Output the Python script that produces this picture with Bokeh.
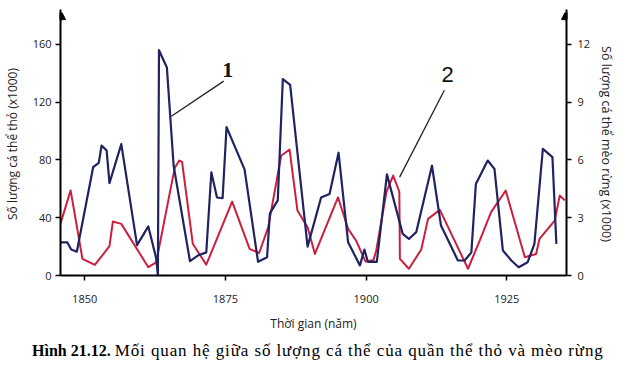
from bokeh.plotting import figure
from bokeh.models import (Range1d, LinearAxis, FixedTicker, Label, Arrow,
                          NormalHead, ColumnDataSource, Div)
from bokeh.layouts import column
from bokeh.embed import file_html
from bokeh.resources import INLINE

# ---- data ----
hare_years = [1845.6, 1846.9, 1847.6, 1848.6, 1851.5, 1852.5, 1853.0, 1853.9, 1854.4,
              1856.5, 1859.3, 1861.3, 1862.7, 1863.0, 1863.2, 1864.6, 1865.8, 1868.7,
              1870.1, 1871.6, 1872.5, 1873.5, 1874.5, 1875.2, 1878.4, 1880.8, 1882.4,
              1882.9, 1884.3, 1885.2, 1886.5, 1889.6, 1892.0, 1893.5, 1895.1, 1896.8,
              1898.9, 1899.7, 1900.3, 1901.9, 1903.7, 1906.5, 1907.6, 1908.9, 1911.7,
              1913.3, 1916.3, 1917.5, 1918.7, 1919.5, 1921.6, 1922.8, 1924.3, 1925.8,
              1927.1, 1928.7, 1929.9, 1931.4, 1933.1, 1933.8]
hare_values = [23, 23, 18, 16.5, 75, 78, 90, 86.5, 64,
               91, 21, 34, 12, 0, 156, 144, 76, 10,
               13.8, 16, 71.5, 54, 53.5, 102.7, 73.5, 9.5, 12.7,
               43, 52, 136, 132, 20, 54, 56.5, 85, 23,
               7, 18, 9.5, 9.5, 70, 28.8, 25.3, 30, 76,
               34.6, 10.4, 10.4, 16, 63.4, 79.6, 73.8, 17.3, 10.4,
               5.7, 9.2, 21.9, 87.7, 82, 21.9]

lynx_years = [1845.6, 1847.5, 1849.6, 1851.8, 1854.4, 1855.0, 1856.5, 1861.3, 1862.7,
              1866.0, 1866.8, 1867.3, 1869.2, 1871.6, 1876.2, 1879.3, 1881.0, 1882.6,
              1884.9, 1886.4, 1887.8, 1889.6, 1890.9, 1895.0, 1896.8, 1898.2, 1899.9,
              1901.3, 1901.8, 1903.6, 1904.8, 1905.9, 1906.0, 1907.6, 1909.8, 1911.0,
              1913.1, 1918.1, 1920.2, 1922.2, 1924.8, 1928.2, 1930.2, 1930.8, 1933.5,
              1934.4, 1935.3]
lynx_values = [2.6, 4.42, 0.86, 0.55, 1.52, 2.8, 2.68, 0.43, 0.68,
               5.6, 5.97, 5.9, 1.65, 0.56, 3.84, 1.38, 1.17, 2.5,
               6.22, 6.54, 3.37, 2.5, 1.12, 4.06, 2.42, 1.82, 0.72,
               0.8, 1.3, 4.33, 5.19, 4.35, 0.86, 0.35, 1.35, 2.94,
               3.41, 0.35, 1.82, 3.29, 4.41, 0.95, 1.12, 1.9, 2.85,
               4.15, 3.9]

x_ticks = [1850, 1875, 1900, 1925]
hare_ticks = [0, 40, 80, 120, 160]
lynx_ticks = [0, 3, 6, 9, 12]

X_MIN, X_MAX = 1845.7, 1935.6
HARE_MAX = 182.1
LYNX_MAX = HARE_MAX * 12 / 160

NAVY = "#1f2361"
RED = "#cc1f40"
TICK_FONT = "Open Sans"

p = figure(frame_width=506, frame_height=263, output_backend="svg", toolbar_location=None,
           x_range=Range1d(X_MIN, X_MAX), y_range=Range1d(0, HARE_MAX),
           min_border_left=53, min_border_right=0, min_border_top=12,
           min_border_bottom=57, outline_line_color=None,
           background_fill_color="white", border_fill_color="white")
p.extra_y_ranges = {"lynx": Range1d(0, LYNX_MAX)}
p.grid.visible = False

hare_src = ColumnDataSource(dict(x=hare_years, y=hare_values))
lynx_src = ColumnDataSource(dict(x=lynx_years, y=lynx_values))
p.line("x", "y", source=lynx_src, color=RED, line_width=2, y_range_name="lynx",
       line_join="round")
p.line("x", "y", source=hare_src, color=NAVY, line_width=2.2, line_join="round")

def style_axis(ax):
    ax.axis_line_color = "black"
    ax.axis_line_width = 2
    ax.major_tick_line_color = "black"
    ax.major_tick_line_width = 1.5
    ax.major_tick_out = 5
    ax.major_tick_in = 0
    ax.minor_tick_line_color = None
    ax.major_label_text_font = TICK_FONT
    ax.major_label_text_font_size = "11px"
    ax.major_label_text_color = "#222222"
    ax.axis_label_text_font = TICK_FONT
    ax.axis_label_text_font_style = "normal"
    ax.axis_label_text_color = "#222222"

xa = p.xaxis[0]
style_axis(xa)
xa.ticker = FixedTicker(ticks=x_ticks)
xa.major_label_standoff = 14
xa.axis_label = "Thời gian (năm)"
xa.axis_label_text_font_size = "12px"
xa.axis_label_standoff = 9

ya = p.yaxis[0]
style_axis(ya)
ya.ticker = FixedTicker(ticks=hare_ticks)
ya.major_label_standoff = 4
ya.axis_label = "Số lượng cá thể thỏ (x1000)"
ya.axis_label_text_font_size = "12px"
ya.axis_label_standoff = 9

ra = LinearAxis(y_range_name="lynx")
style_axis(ra)
ra.ticker = FixedTicker(ticks=lynx_ticks)
ra.major_label_standoff = 6
ra.axis_label = "Số lượng cá thể mèo rừng (x1000)"
ra.axis_label_text_font_size = "12.5px"
ra.axis_label_standoff = 5
p.add_layout(ra, "right")

# arrow heads on top of the two y axes
for xa_pos in (X_MIN, X_MAX):
    p.add_layout(Arrow(end=NormalHead(size=10, fill_color="black", line_color="black"),
                       x_start=xa_pos, y_start=HARE_MAX - 6, x_end=xa_pos, y_end=HARE_MAX + 2,
                       line_color="black", line_width=2))

# callouts "1" (hare) and "2" (lynx)
p.add_layout(Arrow(end=None, x_start=1874.7, y_start=134.6, x_end=1865.4, y_end=110.3,
                   line_color="#222222", line_width=1.3))
p.add_layout(Arrow(end=None, x_start=1913.9, y_start=128.3, x_end=1905.95, y_end=68.1,
                   line_color="#222222", line_width=1.3))
p.add_layout(Label(x=1875.4, y=142, text="1", text_font="Liberation Serif",
                   text_font_style="bold", text_font_size="22px", text_align="center",
                   text_baseline="middle", text_color="#111111"))
p.add_layout(Label(x=1914.5, y=139, text="2", text_font="Liberation Sans",
                   text_font_style="normal", text_font_size="22px", text_align="center",
                   text_baseline="middle", text_color="#111111"))

# caption
caption = Div(
    text=("<b style='font-size:16px;letter-spacing:0'>Hình 21.12.</b> "
          "<span style='font-size:17px;letter-spacing:0.9px'>"
          "Mối quan hệ giữa số lượng cá thể của quần thể thỏ và mèo rừng</span>"),
    width=607, height=24,
    styles={"font-family": "'Liberation Serif', serif", "font-size": "16px",
            "color": "black", "padding-left": "27px", "line-height": "24px",
            "white-space": "nowrap"})

layout = column(p, caption, spacing=0)
open("out.html", "w").write(file_html(layout, INLINE))
